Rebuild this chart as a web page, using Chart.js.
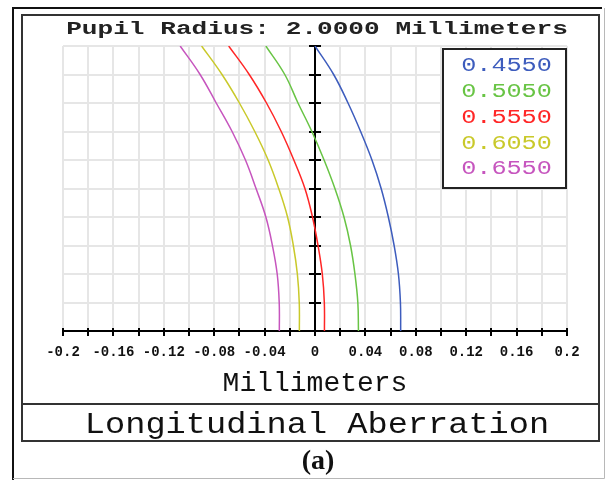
<!DOCTYPE html>
<html>
<head>
<meta charset="utf-8">
<script src="https://cdn.jsdelivr.net/npm/chart.js@4/dist/chart.umd.min.js"></script>
<style>
  html, body { margin: 0; padding: 0; background: #fff; }
  #wrap { width: 608px; height: 480px; position: relative; }
</style>
</head>
<body>
<div id="wrap"><canvas id="c" width="608" height="480"></canvas></div>
<script>
// Normalized pupil coordinate (vertical axis, 0 = center, 1 = edge)
const pupil = [0, 0.1, 0.2, 0.3, 0.4, 0.5, 0.6, 0.7, 0.8, 0.9, 1.0];

// Wavelengths in micrometres
const wavelengths = ['0.4550', '0.5050', '0.5550', '0.6050', '0.6550'];

// Longitudinal focus shift (mm) at each pupil zone
const shift4550 = [0.0680, 0.0678, 0.0662, 0.0628, 0.0582, 0.0525, 0.0452, 0.0362, 0.0262, 0.0148, 0.0000];
const shift5050 = [0.0345, 0.0340, 0.0317, 0.0282, 0.0230, 0.0158, 0.0072, -0.0025, -0.0135, -0.0240, -0.0390];
const shift5550 = [0.0075, 0.0074, 0.0058, 0.0024, -0.0020, -0.0080, -0.0168, -0.0268, -0.0385, -0.0522, -0.0685];
const shift6050 = [-0.0124, -0.0125, -0.0140, -0.0172, -0.0218, -0.0288, -0.0372, -0.0478, -0.0600, -0.0738, -0.0900];
const shift6550 = [-0.0283, -0.0284, -0.0300, -0.0338, -0.0390, -0.0468, -0.0552, -0.0658, -0.0784, -0.0912, -0.1070];

// Horizontal axis labels (every other grid line carries a label)
const xTickLabels = ['-0.2', '-0.16', '-0.12', '-0.08', '-0.04', '0', '0.04', '0.08', '0.12', '0.16', '0.2'];

const plotTitle = 'Pupil Radius: 2.0000 Millimeters';
const xAxisTitle = 'Millimeters';
const panelTitle = 'Longitudinal Aberration';
const panelTag = '(a)';

const seriesShift = [shift4550, shift5050, shift5550, shift6050, shift6550];
const seriesColors = ['#3d5cbd', '#68c444', '#ff2626', '#c9c92a', '#c655be'];

const MONO = '"Liberation Mono", "Courier New", monospace';

function stretchedText(ctx, text, cx, cy, font, sx, color) {
  ctx.save();
  ctx.font = font;
  ctx.fillStyle = color;
  ctx.textAlign = 'center';
  ctx.textBaseline = 'middle';
  ctx.translate(cx, cy);
  ctx.scale(sx, 1);
  ctx.fillText(text, 0, 0);
  ctx.restore();
}

// Center axis at x = 0 with ticks at each pupil zone, and x-axis tick marks
const axesPlugin = {
  id: 'axesMarks',
  beforeDatasetsDraw(chart) {
    const ctx = chart.ctx;
    const xs = chart.scales.x, ys = chart.scales.y;
    const x0 = xs.getPixelForValue(0);
    ctx.save();
    ctx.strokeStyle = '#000';
    ctx.lineWidth = 2;
    ctx.beginPath();
    ctx.moveTo(x0, ys.getPixelForValue(0));
    ctx.lineTo(x0, ys.getPixelForValue(1));
    ctx.stroke();
    ys.ticks.forEach(t => {
      if (t.value <= 0) return;
      const py = Math.round(ys.getPixelForValue(t.value));
      ctx.beginPath();
      ctx.moveTo(x0 - 6, py);
      ctx.lineTo(x0 + 6, py);
      ctx.stroke();
    });
    const yb = ys.getPixelForValue(0);
    xs.ticks.forEach(t => {
      const px = Math.round(xs.getPixelForValue(t.value));
      ctx.beginPath();
      ctx.moveTo(px, yb - 3);
      ctx.lineTo(px, yb + 5);
      ctx.stroke();
    });
    ctx.restore();
  }
};

// Legend box, frames, titles
const framePlugin = {
  id: 'frame',
  afterDraw(chart) {
    const ctx = chart.ctx;
    ctx.save();
    // outer frame
    ctx.strokeStyle = '#111';
    ctx.lineWidth = 2;
    ctx.beginPath();
    ctx.moveTo(13, 480);
    ctx.lineTo(13, 8);
    ctx.lineTo(602, 8);
    ctx.stroke();
    ctx.strokeStyle = '#b8b8b8';
    ctx.lineWidth = 1;
    ctx.beginPath();
    ctx.moveTo(604.5, 8);
    ctx.lineTo(604.5, 478.5);
    ctx.lineTo(13, 478.5);
    ctx.stroke();
    // inner frame and divider
    ctx.strokeStyle = '#333';
    ctx.lineWidth = 2;
    ctx.strokeRect(22, 15, 577, 426);
    ctx.beginPath();
    ctx.moveTo(22, 404);
    ctx.lineTo(599, 404);
    ctx.stroke();

    // legend
    ctx.fillStyle = '#fff';
    ctx.fillRect(443, 49, 123, 139);
    ctx.strokeStyle = '#222';
    ctx.lineWidth = 2;
    ctx.strokeRect(443, 49, 123, 139);
    chart.data.datasets.forEach((ds, i) => {
      stretchedText(ctx, ds.label, 506.5, 66 + i * 25.8, '20px ' + MONO, 1.26, ds.borderColor);
    });

    // titles
    stretchedText(ctx, plotTitle, 317, 29.5, 'bold 19px ' + MONO, 1.375, '#222');
    stretchedText(ctx, panelTitle, 317, 425.5, '29px ' + MONO, 1.16, '#111');
    ctx.font = 'bold 28px "Liberation Serif", serif';
    ctx.fillStyle = '#111';
    ctx.textAlign = 'center';
    ctx.textBaseline = 'middle';
    ctx.fillText(panelTag, 318, 462);
    ctx.restore();
  }
};

const datasets = wavelengths.map((w, i) => ({
  label: w,
  data: pupil.map((p, k) => ({ x: seriesShift[i][k], y: p })),
  borderColor: seriesColors[i],
  backgroundColor: seriesColors[i],
  borderWidth: 1.5,
  showLine: true,
  pointRadius: 0,
  tension: 0.4,
  fill: false
}));

new Chart(document.getElementById('c'), {
  type: 'scatter',
  data: { datasets },
  options: {
    responsive: false,
    animation: false,
    devicePixelRatio: 1,
    layout: { padding: { left: 63, right: 41, top: 46, bottom: 80 } },
    plugins: {
      legend: { display: false },
      title: { display: false },
      tooltip: { enabled: false }
    },
    scales: {
      x: {
        type: 'linear',
        min: -0.2,
        max: 0.2,
        afterFit(scale) { scale.height = 69; },
        ticks: {
          stepSize: 0.02,
          autoSkip: false,
          maxRotation: 0,
          padding: 13,
          color: '#111',
          font: { family: MONO, size: 14, weight: 'bold' },
          callback(value, index) {
            return index % 2 === 0 ? xTickLabels[index / 2] : '';
          }
        },
        grid: { color: '#e6e6e6', lineWidth: 2, drawTicks: false },
        border: { display: true, color: '#000', width: 2 },
        title: {
          display: true,
          text: xAxisTitle,
          color: '#111',
          font: { family: MONO, size: 28 },
          padding: { top: 0, bottom: 0 }
        }
      },
      y: {
        type: 'linear',
        min: 0,
        max: 1,
        afterFit(scale) { scale.width = 0; },
        ticks: { display: false, stepSize: 0.1 },
        grid: { color: '#e6e6e6', lineWidth: 2, drawTicks: false },
        border: { display: false }
      }
    }
  },
  plugins: [axesPlugin, framePlugin]
});
</script>
</body>
</html>
